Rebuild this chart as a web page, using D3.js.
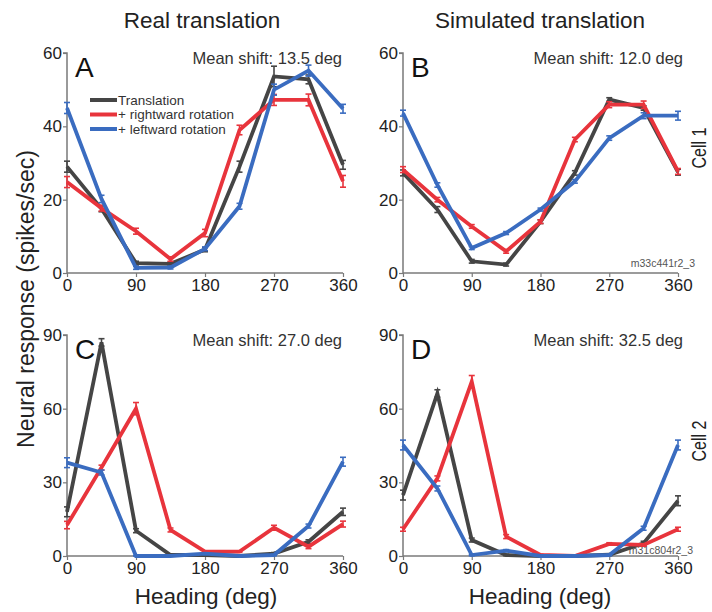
<!DOCTYPE html>
<html>
<head>
<meta charset="utf-8">
<script src="https://cdn.jsdelivr.net/npm/d3@7"></script>
<style>
  body { margin: 0; background: #fff; }
  text { font-family: "Liberation Sans", Arial, sans-serif; }
</style>
</head>
<body>
<div id="chart"></div>
<script>
// headings (deg)
const headings = [0, 45, 90, 135, 180, 225, 270, 315, 360];
const xTicks = [0, 90, 180, 270, 360];

const seriesNames = ["Translation", "+ rightward rotation", "+ leftward rotation"];
const seriesColors = ["#454545", "#e8343c", "#3a6cc0"];

// Cell 1, real translation (A)
const aTrans = [29, 17.5, 2.7, 2.5, 6.4, 29, 53.6, 52.8, 29.5];
const aRight = [24.8, 17.7, 11.4, 3.8, 10.9, 39, 47.2, 47.2, 25];
const aLeft = [45, 20.2, 1.4, 1.5, 6.6, 18.2, 50, 55.2, 44.8];
const aErr = [[1.5, 0.8, 0.5, 0.5, 0.6, 1.5, 2.8, 1.2, 1.2],
              [1.5, 0.8, 0.8, 0.6, 1, 1.3, 1.5, 1.6, 1.6],
              [1.5, 1, 0.4, 0.4, 0.5, 0.8, 1.5, 1.5, 1.2]];

// Cell 1, simulated translation (B)
const bTrans = [27.3, 17.3, 3.2, 2.3, 14, 27.3, 47.3, 45, 27.5];
const bRight = [28.2, 20, 12.7, 5.9, 14, 36.4, 45.9, 45.9, 27.7];
const bLeft = [43.6, 24, 6.8, 10.9, 17.3, 25, 36.8, 42.9, 42.9];
const bErr = [[0.8, 0.8, 0.5, 0.4, 0.5, 0.6, 0.5, 0.6, 0.8],
              [0.8, 0.6, 0.5, 0.5, 0.5, 0.6, 0.8, 1, 0.8],
              [0.8, 0.6, 0.4, 0.4, 0.4, 0.5, 0.6, 0.8, 1.2]];

// Cell 2, real translation (C)
const cTrans = [18, 87, 10.3, 0.4, 0.4, 0, 1, 5.8, 18];
const cRight = [12.6, 36, 60, 10.6, 1.8, 1.8, 11.5, 3.8, 13];
const cLeft = [38, 34, 0, 0, 1, 0, 0.4, 12.2, 38.4];
const cErr = [[2, 1.5, 0.8, 0.3, 0.3, 0.2, 0.4, 0.8, 1.5],
              [1.5, 1, 2.5, 0.8, 0.3, 0.3, 1, 0.8, 1.2],
              [2, 1, 0.2, 0.2, 0.3, 0.2, 0.3, 0.8, 1.8]];

// Cell 2, simulated translation (D)
const dTrans = [24.8, 66.2, 6.5, 0.4, 0, 0, 0.5, 5.2, 22.5];
const dRight = [10.9, 31.6, 71, 7.9, 0.4, 0, 4.9, 4.5, 10.9];
const dLeft = [45.2, 27.5, 0.4, 2.2, 0, 0, 0.4, 11.3, 45.2];
const dErr = [[2, 1.5, 0.8, 0.3, 0.2, 0.2, 0.3, 0.8, 2],
              [0.8, 1, 2.5, 0.8, 0.3, 0.2, 0.5, 0.5, 0.8],
              [2, 1, 0.3, 0.4, 0.2, 0.2, 0.3, 0.8, 2]];

const panelLetters = ["A", "B", "C", "D"];
const meanShifts = ["Mean shift: 13.5 deg", "Mean shift: 12.0 deg", "Mean shift: 27.0 deg", "Mean shift: 32.5 deg"];
const yMaxes = [60, 60, 90, 90];
const yTickSets = [[0, 20, 40, 60], [0, 20, 40, 60], [0, 30, 60, 90], [0, 30, 60, 90]];
const cellIds = ["", "m33c441r2_3", "", "m31c804r2_3"];
const columnTitles = ["Real translation", "Simulated translation"];
const rowLabels = ["Cell 1", "Cell 2"];

const panelSeries = [[aTrans, aRight, aLeft], [bTrans, bRight, bLeft], [cTrans, cRight, cLeft], [dTrans, dRight, dLeft]];
const panelErrs = [aErr, bErr, cErr, dErr];

const width = 712, height = 612;

// plot boxes: [left, right, top, bottom]
const boxes = [
  [67, 343, 53, 273],
  [403, 678, 53, 273],
  [67, 343, 335, 556],
  [403, 678, 335, 556]
];
// where the "Mean shift" text ends, and the cell id
const shiftRight = [342, 683, 342, 683];
const idPos = [null, [695, 267], null, [693, 554]];

const svg = d3.select("#chart").append("svg")
  .attr("width", width)
  .attr("height", height);

const axisColor = "#7a7a7a";

boxes.forEach(function(b, i) {
  const x = d3.scaleLinear().domain([0, 360]).range([b[0], b[1]]);
  const y = d3.scaleLinear().domain([0, yMaxes[i]]).range([b[3], b[2]]);

  const g = svg.append("g");

  // axes
  const xAxis = g.append("g")
    .attr("transform", `translate(0, ${b[3]})`)
    .call(d3.axisBottom(x).tickValues(xTicks).tickSize(4).tickPadding(2));
  const yAxis = g.append("g")
    .attr("transform", `translate(${b[0]}, 0)`)
    .call(d3.axisLeft(y).tickValues(yTickSets[i]).tickSize(4).tickPadding(1));

  [xAxis, yAxis].forEach(function(ax) {
    ax.select(".domain").attr("stroke", axisColor).attr("stroke-width", 1.5);
    ax.selectAll(".tick line").attr("stroke", axisColor).attr("stroke-width", 1.2);
    ax.selectAll(".tick text")
      .attr("fill", "#222")
      .style("font-size", "17px")
      .style("font-family", "'Liberation Sans', Arial, sans-serif");
  });
  yAxis.select(".domain").attr("d", `M${-4},${b[2]}H0V${b[3]}`);
  xAxis.select(".domain").attr("d", `M${b[0]},0H${b[1]}`);

  // cell id
  if (cellIds[i]) {
    g.append("text")
      .attr("x", idPos[i][0])
      .attr("y", idPos[i][1])
      .attr("text-anchor", "end")
      .attr("fill", "#555")
      .style("font-size", "10.5px")
      .text(cellIds[i]);
  }

  const line = d3.line()
    .x((d, j) => x(headings[j]))
    .y(d => y(d));

  panelSeries[i].forEach(function(vals, s) {
    const col = seriesColors[s];
    const errs = panelErrs[i][s];
    g.append("path")
      .datum(vals)
      .attr("fill", "none")
      .attr("stroke", col)
      .attr("stroke-width", 3.8)
      .attr("stroke-linejoin", "miter")
      .attr("d", line);

    // error bars
    const eb = g.append("g").attr("stroke", col).attr("stroke-width", 1.6);
    vals.forEach(function(v, j) {
      const cx = x(headings[j]);
      const y1 = y(v + errs[j]), y2 = y(Math.max(0, v - errs[j]));
      eb.append("line").attr("x1", cx).attr("x2", cx).attr("y1", y1).attr("y2", y2);
      eb.append("line").attr("x1", cx - 3).attr("x2", cx + 3).attr("y1", y1).attr("y2", y1);
      eb.append("line").attr("x1", cx - 3).attr("x2", cx + 3).attr("y1", y2).attr("y2", y2);
    });
  });

  // panel letter
  g.append("text")
    .attr("x", b[0] + 8)
    .attr("y", b[2] + 24)
    .attr("fill", "#111")
    .style("font-size", "28px")
    .text(panelLetters[i]);

  // mean shift
  g.append("text")
    .attr("x", shiftRight[i])
    .attr("y", b[2] + 11)
    .attr("text-anchor", "end")
    .attr("fill", "#333")
    .style("font-size", "16.5px")
    .text(meanShifts[i]);
});

// legend in panel A
const legend = svg.append("g").attr("transform", "translate(90, 100)");
seriesNames.forEach(function(name, s) {
  const row = legend.append("g").attr("transform", `translate(0, ${s * 14.5})`);
  row.append("line")
    .attr("x1", 0).attr("x2", 27)
    .attr("y1", 0).attr("y2", 0)
    .attr("stroke", seriesColors[s])
    .attr("stroke-width", 4);
  row.append("text")
    .attr("x", 28)
    .attr("y", 4.5)
    .attr("fill", "#333")
    .style("font-size", "13.5px")
    .text(name);
});

// column titles
columnTitles.forEach(function(t, k) {
  svg.append("text")
    .attr("x", k === 0 ? 202 : 540)
    .attr("y", 28)
    .attr("text-anchor", "middle")
    .attr("fill", "#222")
    .style("font-size", "22.5px")
    .text(t);
});

// row labels
rowLabels.forEach(function(t, k) {
  svg.append("text")
    .attr("transform", `translate(706, ${k === 0 ? 148 : 441}) rotate(-90)`)
    .attr("text-anchor", "middle")
    .attr("fill", "#222")
    .style("font-size", "21px")
    .attr("textLength", 41)
    .attr("lengthAdjust", "spacingAndGlyphs")
    .text(t);
});

// y label
svg.append("text")
  .attr("transform", "translate(34, 299) rotate(-90)")
  .attr("text-anchor", "middle")
  .attr("fill", "#222")
  .style("font-size", "23px")
  .text("Neural response (spikes/sec)");

// x labels
[206, 540].forEach(function(cx) {
  svg.append("text")
    .attr("x", cx)
    .attr("y", 604)
    .attr("text-anchor", "middle")
    .attr("fill", "#222")
    .style("font-size", "22.5px")
    .text("Heading (deg)");
});
</script>
</body>
</html>
